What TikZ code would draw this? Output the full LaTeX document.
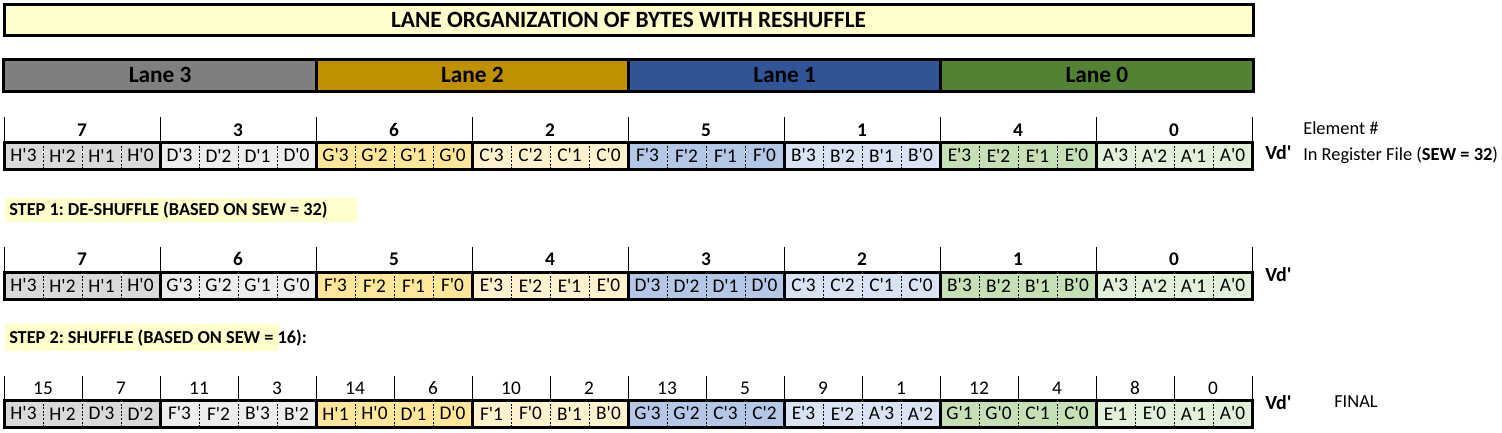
\documentclass[tikz,border=0pt]{standalone}
\usepackage{fontspec}
\setmainfont{Carlito}
\definecolor{titlefill}{HTML}{FFFFCC}
\definecolor{laneIII}{HTML}{7F7F7F}
\definecolor{laneII}{HTML}{BF9000}
\definecolor{laneI}{HTML}{2F5597}
\definecolor{laneO}{HTML}{548235}
\definecolor{cga}{HTML}{D9D9D9}
\definecolor{cgb}{HTML}{EDEDED}
\definecolor{cya}{HTML}{FFE699}
\definecolor{cyb}{HTML}{FFF2CC}
\definecolor{cba}{HTML}{B4C7E7}
\definecolor{cbb}{HTML}{DAE3F3}
\definecolor{cna}{HTML}{C5E0B4}
\definecolor{cnb}{HTML}{E2F0D9}
\newcommand{\qq}{\textquotesingle}
\newcommand{\splitlbl}[2]{#1\qq#2}
\frenchspacing
\begin{document}
\begin{tikzpicture}[x=0.75pt,y=-0.75pt,
  heavy/.style={line width=2.25pt},
  tick/.style={line width=0.75pt},
  sep/.style={line width=0.75pt,dash pattern=on 1.5pt off 1.2pt},
  bytecell/.style={minimum width=29.25pt,minimum height=20.25pt,inner sep=0pt,outer sep=0pt,font=\fontsize{14.5}{16}\selectfont},
  elnum/.style={inner sep=0pt,font=\bfseries\fontsize{14.5}{16}\selectfont},
  hwnum/.style={inner sep=0pt,font=\fontsize{14.5}{16}\selectfont},
  lanebox/.style={minimum width=234.19pt,minimum height=24pt,inner sep=0pt,outer sep=0pt,font=\bfseries\fontsize{17.5}{19}\selectfont},
  sidelabel/.style={inner sep=0pt,anchor=west,font=\fontsize{13.8}{15}\selectfont},
  vdlabel/.style={inner sep=0pt,anchor=west,font=\bfseries\fontsize{15}{17}\selectfont},
  steplabel/.style={inner sep=0pt,anchor=west,font=\bfseries\fontsize{13.7}{15}\selectfont}
]
\useasboundingbox (0,0) rectangle (1502,432);

% Title
\node[draw,heavy,fill=titlefill,minimum width=936.75pt,minimum height=23.25pt,inner sep=0pt,
  font=\bfseries\fontsize{17.5}{19}\selectfont] (title) at (628.5,19.5) {LANE ORGANIZATION OF BYTES WITH RESHUFFLE};

% Lanes
\foreach \n/\c [count=\i from 0] in {3/laneIII,2/laneII,1/laneI,0/laneO}{
  \node[lanebox,fill=\c] (lane\n) at ({4+312.25*\i+156.125},75) {Lane \n};
}
\draw[heavy] (lane3.north west) rectangle (lane0.south east);
\foreach \n in {3,2,1}{\draw[heavy] (lane\n.north east) -- (lane\n.south east);}

% Row 1
\foreach \e/\col/\num [count=\i from 0] in {H/cga/7,D/cgb/3,G/cya/6,C/cyb/2,F/cba/5,B/cbb/1,E/cna/4,A/cnb/0}{
  \foreach \b [count=\j from 0] in {3,2,1,0}{
    \node[bytecell,fill=\col] (ra\i\j) at ({4+156*\i+39*\j+19.5},155.5) {\e\qq\b};
  }
  \node[elnum] (na\i) at ({4+156*\i+78},130) {\num};
}
% Row 2
\foreach \e/\col/\num [count=\i from 0] in {H/cga/7,G/cgb/6,F/cya/5,E/cyb/4,D/cba/3,C/cbb/2,B/cna/1,A/cnb/0}{
  \foreach \b [count=\j from 0] in {3,2,1,0}{
    \node[bytecell,fill=\col] (rb\i\j) at ({4+156*\i+39*\j+19.5},285.5) {\e\qq\b};
  }
  \node[elnum] (nb\i) at ({4+156*\i+78},259) {\num};
}
% Row 3
\foreach \p/\q/\r/\s/\col/\nA/\nB [count=\i from 0] in {
  H3/H2/D3/D2/cga/15/7, F3/F2/B3/B2/cgb/11/3, H1/H0/D1/D0/cya/14/6, F1/F0/B1/B0/cyb/10/2,
  G3/G2/C3/C2/cba/13/5, E3/E2/A3/A2/cbb/9/1, G1/G0/C1/C0/cna/12/4, E1/E0/A1/A0/cnb/8/0}{
  \foreach \t [count=\j from 0] in {\p,\q,\r,\s}{
    \node[bytecell,fill=\col] (rc\i\j) at ({4+156*\i+39*\j+19.5},413.5) {\edef\lbl{\t}\expandafter\splitlbl\lbl};
  }
  \node[hwnum] (nc\i a) at ({4+156*\i+39},388) {\nA};
  \node[hwnum] (nc\i b) at ({4+156*\i+117},388) {\nB};
}

% separators and borders
\foreach \r in {a,b,c}{
  \foreach \i in {0,...,7}{
    \foreach \j in {0,1,2}{
      \draw[sep] (r\r\i\j.north east) -- (r\r\i\j.south east);
    }
  }
}
\foreach \r in {a,b}{
  \foreach \i in {0,...,7}{
    \draw[tick] (r\r\i0.north west) -- ++(0,-25);
  }
  \draw[tick] (r\r73.north east) -- ++(0,-25);
}
\foreach \i in {0,...,7}{
  \draw[tick] (rc\i0.north west) -- ++(0,-24);
  \draw[tick] (rc\i2.north west) -- ++(0,-24);
}
\draw[tick] (rc73.north east) -- ++(0,-24);
\foreach \r in {a,b,c}{
  \foreach \i in {0,...,6}{
    \draw[heavy] (r\r\i3.north east) -- (r\r\i3.south east);
  }
  \draw[heavy] (r\r00.north west) rectangle (r\r73.south east);
}

% Side labels
\node[vdlabel] (vda) at (1265,153) {Vd\qq};
\node[vdlabel] (vdb) at (1265,275) {Vd\qq};
\node[vdlabel] (vdc) at (1265,403) {Vd\qq};
\node[sidelabel] (elem) at (1303,128) {Element \#};
\node[sidelabel] (regf) at (1303,155) {In Register File (\textbf{SEW = 32})};
\node[sidelabel] (final) at (1334,402) {FINAL};

% Step labels
\fill[titlefill] (5,198) rectangle (357,222);
\node[steplabel] (step1) at (9,210.5) {STEP 1: DE-SHUFFLE (BASED ON SEW = 32)};
\fill[titlefill] (5,324) rectangle (279,351);
\node[steplabel] (step2) at (9,338) {STEP 2: SHUFFLE (BASED ON SEW = 16):};
\end{tikzpicture}
\end{document}
